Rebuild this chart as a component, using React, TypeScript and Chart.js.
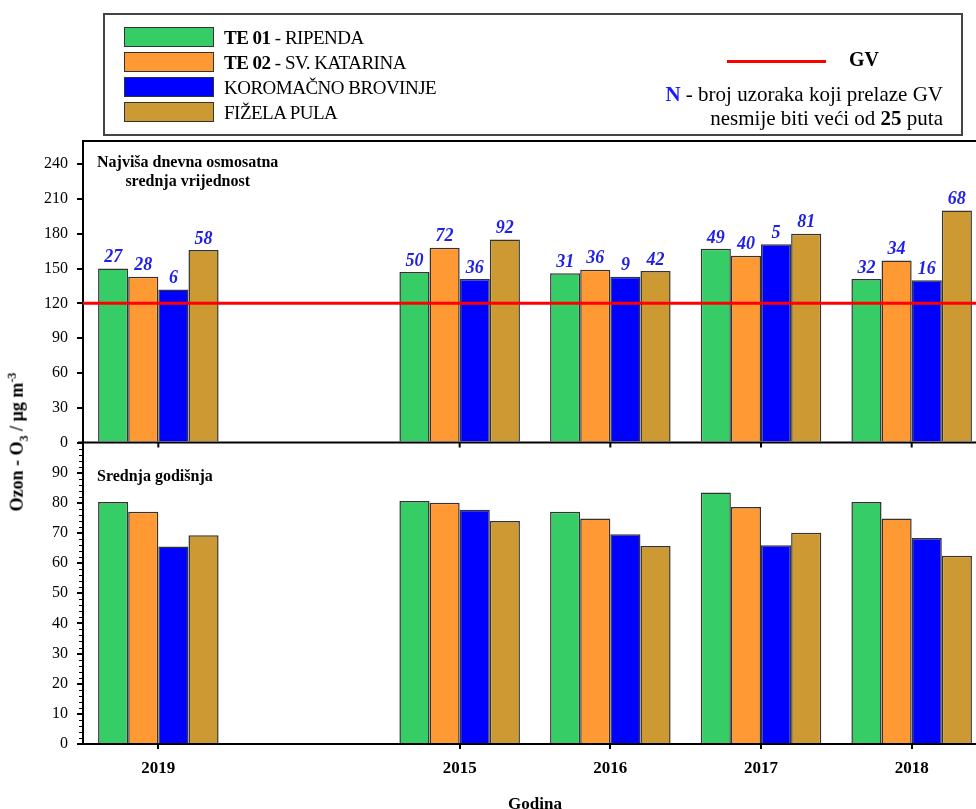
import React, { useEffect, useRef } from 'react';
import { Chart, registerables } from 'chart.js';

Chart.register(...registerables);

// ---------- DATA ----------
const categories = ['2019', '', '2015', '2016', '2017', '2018'];
const seriesNames = ['TE 01 - RIPENDA', 'TE 02 - SV. KATARINA', 'KOROMAČNO BROVINJE', 'FIŽELA PULA'];
const seriesColors = ['#36CC66', '#FF9933', '#0000FF', '#CC9933'];

// Najviša dnevna osmosatna srednja vrijednost (µg/m3)
const maxRipenda = [150, null, 147, 146, 167, 141];
const maxKatarina = [143, null, 168, 149, 161, 157];
const maxBrovinje = [132, null, 141, 143, 171, 140];
const maxPula = [166, null, 175, 148, 180, 200];

// N - broj uzoraka koji prelaze GV
const nRipenda = [27, null, 50, 31, 49, 32];
const nKatarina = [28, null, 72, 36, 40, 34];
const nBrovinje = [6, null, 36, 9, 5, 16];
const nPula = [58, null, 92, 42, 81, 68];

// Srednja godišnja (µg/m3)
const avgRipenda = [80.3, null, 80.6, 77.0, 83.4, 80.3];
const avgKatarina = [77.0, null, 80.0, 74.8, 78.6, 74.8];
const avgBrovinje = [65.5, null, 77.7, 69.6, 65.9, 68.3];
const avgPula = [69.2, null, 74.0, 65.7, 70.1, 62.4];

const GV = 120;
const topAxisMax = 260;
const topAxisStep = 30;
const bottomAxisMax = 100;
const bottomAxisStep = 10;
const bottomMinorStep = 2;
const bottomAxisLastLabel = 90;

const topTitle = ['Najviša dnevna osmosatna', 'srednja vrijednost'];
const bottomTitle = 'Srednja godišnja';

const maxSeries = [maxRipenda, maxKatarina, maxBrovinje, maxPula];
const nSeries = [nRipenda, nKatarina, nBrovinje, nPula];
const avgSeries = [avgRipenda, avgKatarina, avgBrovinje, avgPula];

const SERIF = '"Liberation Serif", "Times New Roman", serif';

const overlayPlugin = {
  id: 'overlay',
  afterDatasetsDraw(chart: any) {
    const { ctx, chartArea } = chart;
    const yTop = chart.scales.yTop;
    const yBot = chart.scales.yBot;
    const x = chart.scales.x;
    ctx.save();
    // minor ticks on bottom y axis
    ctx.strokeStyle = '#000';
    ctx.lineWidth = 1;
    for (let v = 0; v < bottomAxisMax; v += bottomMinorStep) {
      if (v % bottomAxisStep === 0) continue;
      const py = Math.round(yBot.getPixelForValue(v)) + 0.5;
      ctx.beginPath();
      ctx.moveTo(chartArea.left - 4, py);
      ctx.lineTo(chartArea.left, py);
      ctx.stroke();
    }

    // top border of plot
    ctx.lineWidth = 2;
    ctx.beginPath();
    ctx.moveTo(chartArea.left, chartArea.top);
    ctx.lineTo(chartArea.right, chartArea.top);
    ctx.stroke();
    // zero line of top panel
    const y0 = yTop.getPixelForValue(0);
    ctx.beginPath();
    ctx.moveTo(chartArea.left - 5, y0);
    ctx.lineTo(chartArea.right, y0);
    ctx.stroke();
    // tick marks on top panel's zero line
    x.ticks.forEach((t: any, i: number) => {
      if (categories[i] === '') return;
      const px = x.getPixelForTick(i);
      ctx.beginPath();
      ctx.moveTo(px, y0);
      ctx.lineTo(px, y0 + 5);
      ctx.stroke();
    });
    // GV line
    const yg = yTop.getPixelForValue(GV);
    ctx.strokeStyle = '#FF0000';
    ctx.lineWidth = 3;
    ctx.beginPath();
    ctx.moveTo(chartArea.left, yg);
    ctx.lineTo(chartArea.right, yg);
    ctx.stroke();

    // N labels
    ctx.fillStyle = '#1f1fe6';
    ctx.font = `italic bold 18px ${SERIF}`;
    ctx.textAlign = 'center';
    ctx.textBaseline = 'bottom';
    for (let d = 0; d < 4; d++) {
      const meta = chart.getDatasetMeta(d);
      meta.data.forEach((el: any, i: number) => {
        const n = nSeries[d][i];
        if (n === null || maxSeries[d][i] === null) return;
        ctx.fillText(String(n), el.x, el.y - 2);
      });
    }

    // panel titles
    ctx.fillStyle = '#000';
    ctx.font = `bold 16px ${SERIF}`;
    ctx.textBaseline = 'middle';
    ctx.textAlign = 'left';
    const tx = chartArea.left + 14;
    ctx.fillText(topTitle[0], tx, chartArea.top + 22);
    const w0 = ctx.measureText(topTitle[0]).width;
    ctx.textAlign = 'center';
    ctx.fillText(topTitle[1], tx + w0 / 2, chartArea.top + 41);
    ctx.textAlign = 'left';
    ctx.fillText(bottomTitle, tx, y0 + 34);
    ctx.restore();
  },
};

function App() {
  const canvasRef = useRef<HTMLCanvasElement | null>(null);

  useEffect(() => {
    if (!canvasRef.current) return;
    const datasets: any[] = [];
    for (let d = 0; d < 4; d++) {
      datasets.push({
        label: seriesNames[d],
        data: maxSeries[d],
        backgroundColor: seriesColors[d],
        borderColor: '#333',
        borderWidth: 1.5,
        yAxisID: 'yTop',
        stack: 's' + d,
        categoryPercentage: 0.8,
        barPercentage: 1,
      });
    }
    for (let d = 0; d < 4; d++) {
      datasets.push({
        label: seriesNames[d] + ' (srednja godišnja)',
        data: avgSeries[d],
        backgroundColor: seriesColors[d],
        borderColor: '#333',
        borderWidth: 1.5,
        yAxisID: 'yBot',
        stack: 's' + d,
        categoryPercentage: 0.8,
        barPercentage: 1,
      });
    }
    const yCommon = (max: number, step: number) => ({
      type: 'linear',
      position: 'left',
      stack: 'panels',
      stackWeight: 1,
      stacked: false,
      min: 0,
      max,
      border: { display: true, color: '#000', width: 2 },
      grid: { display: true, drawOnChartArea: false, drawTicks: true, tickLength: 6, color: '#000', lineWidth: 2 },
      ticks: {
        stepSize: step,
        includeBounds: false,
        autoSkip: false,
        color: '#000',
        padding: 9,
        font: { family: SERIF, size: 16 },
      },
      afterFit: (axis: any) => {
        axis.width = 83;
      },
    });
    const yTopOpts: any = yCommon(topAxisMax, topAxisStep);
    const yBotOpts: any = yCommon(bottomAxisMax, bottomAxisStep);
    yBotOpts.afterBuildTicks = (axis: any) => {
      axis.ticks = axis.ticks.filter((t: any) => t.value <= bottomAxisLastLabel);
    };

    const chart = new Chart(canvasRef.current, {
      type: 'bar',
      data: { labels: categories, datasets },
      plugins: [overlayPlugin],
      options: {
        responsive: false,
        animation: false,
        devicePixelRatio: 1,
        layout: { padding: { top: 141, left: 0, right: 3, bottom: 0 } },
        plugins: { legend: { display: false }, tooltip: { enabled: false } },
        scales: {
          x: {
            type: 'category',
            offset: true,
            border: { display: true, color: '#000', width: 2 },
            grid: {
              display: true,
              offset: false,
              drawOnChartArea: false,
              drawTicks: true,
              tickLength: 5,
              lineWidth: 2,
              color: (c: any) => (categories[c.index] === '' ? 'rgba(0,0,0,0)' : '#000'),
            },
            ticks: {
              color: '#000',
              padding: 9,
              maxRotation: 0,
              autoSkip: false,
              font: { family: SERIF, size: 17, weight: 'bold' },
            },
            title: {
              display: true,
              text: 'Godina',
              color: '#000',
              padding: { top: 0, bottom: 15 },
              font: { family: SERIF, size: 17, weight: 'bold' },
            },
            afterFit: (axis: any) => {
              axis.height = 86;
            },
          },
          yBot: yBotOpts,
          yTop: yTopOpts,
        },
      } as any,
    });
    return () => chart.destroy();
  }, []);

  const legendText: React.CSSProperties = {
    position: 'absolute',
    left: 224,
    font: `19px ${SERIF}`,
    letterSpacing: '-0.5px',
    color: '#000',
    whiteSpace: 'nowrap',
    lineHeight: '21px',
  };
  const swatchTops = [27, 52, 77, 102];
  const legendLabels: React.ReactNode[] = [
    <span><b>TE 01</b> - RIPENDA</span>,
    <span><b>TE 02</b> - SV. KATARINA</span>,
    <span>{seriesNames[2]}</span>,
    <span>{seriesNames[3]}</span>,
  ];

  return (
    <div style={{ position: 'absolute', left: 0, top: 0, width: 976, height: 809, overflow: 'hidden', background: '#fff' }}>
      <canvas ref={canvasRef} width={990} height={830} style={{ position: 'absolute', left: 0, top: 0, width: 990, height: 830 }} />
      {/* legend box */}
      <div style={{ position: 'absolute', left: 103, top: 13, width: 856, height: 119, border: '2px solid #444' }} />
      {swatchTops.map((t, i) => (
        <React.Fragment key={i}>
          <div style={{ position: 'absolute', left: 124, top: t, width: 88, height: 18, background: seriesColors[i], border: '1.5px solid #333' }} />
          <div style={{ ...legendText, top: t }}>{legendLabels[i]}</div>
        </React.Fragment>
      ))}
      <div style={{ position: 'absolute', left: 727, top: 60, width: 99, height: 3, background: '#FF0000' }} />
      <div style={{ position: 'absolute', left: 849, top: 48, font: `bold 20px ${SERIF}`, color: '#000' }}>GV</div>
      <div style={{ position: 'absolute', left: 540, top: 82, width: 403, textAlign: 'right', font: `21px ${SERIF}`, lineHeight: '24px', color: '#000', whiteSpace: 'nowrap' }}>
        <b style={{ color: '#1a1aff' }}>N</b> - broj uzoraka koji prelaze GV
        <br />
        nesmije biti veći od <b>25</b> puta
      </div>
      {/* y axis title */}
      <div
        style={{
          position: 'absolute',
          left: 18,
          top: 442,
          transform: 'translate(-50%, -50%) rotate(-90deg)',
          whiteSpace: 'nowrap',
          font: `bold 18px ${SERIF}`,
          color: '#000',
        }}
      >
        Ozon - O<sub style={{ fontSize: '12px' }}>3</sub> / µg m<sup style={{ fontSize: '12px' }}>-3</sup>
      </div>
    </div>
  );
}

export default App;
